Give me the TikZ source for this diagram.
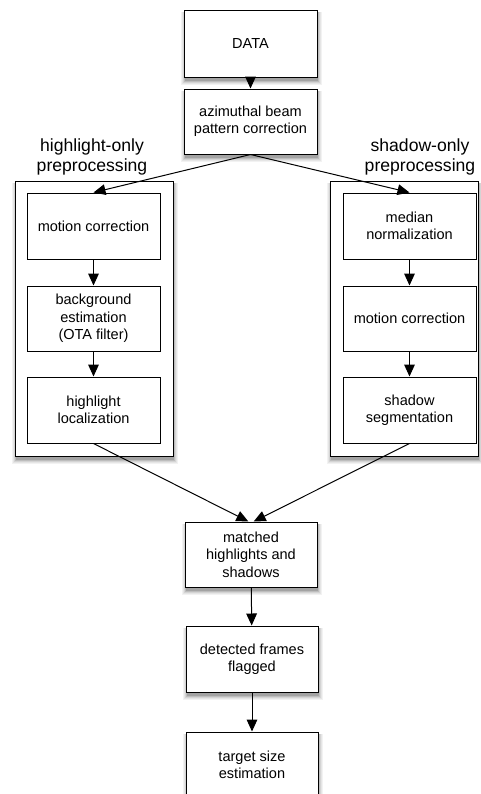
\documentclass[tikz,border=0pt]{standalone}
\usepackage{fontspec}
\setmainfont{Liberation Sans}
\usetikzlibrary{arrows.meta}
\newcommand{\shadowrect}[4]{%
  \fill[black!5]  (#1-3.5,#2+2) rectangle (#3+4.5,#4+8);
  \fill[black!10] (#1-2.5,#2+2) rectangle (#3+3.5,#4+7);
  \fill[black!17] (#1-1.5,#2+2) rectangle (#3+2.5,#4+6);
  \fill[black!26] (#1-0.5,#2+2) rectangle (#3+1.5,#4+5);
  \fill[black!36] (#1+0.5,#2+2) rectangle (#3+0.5,#4+4);}
\begin{document}
\begin{tikzpicture}[x=0.75pt,y=-0.75pt,
  box/.style={draw=black,line width=0.75pt,fill=white,align=center,inner sep=0pt,
    font=\fontsize{10.9}{13}\selectfont,
    minimum width=133*0.75pt,minimum height=66*0.75pt},
  outer/.style={draw=black,line width=0.75pt,fill=white,inner sep=0pt},
  grp/.style={align=center,font=\fontsize{13.2}{15}\selectfont,inner sep=0pt},
  arr/.style={-{Triangle[length=9pt,width=8pt]},line width=0.75pt}]
\useasboundingbox (0,0) rectangle (480,794);
% shadows
\shadowrect{15}{181}{173}{456}
\shadowrect{330}{181}{478}{456}
\shadowrect{184}{10}{317}{77}
\shadowrect{184}{89}{317}{154}
\shadowrect{185}{522}{317}{587}
\shadowrect{186}{626}{318}{692}
\shadowrect{186}{732}{318}{798}
% groups
\node[outer,minimum width=158*0.75pt,minimum height=275*0.75pt] (lo) at (94,318.5) {};
\node[outer,minimum width=148*0.75pt,minimum height=275*0.75pt] (ro) at (404,318.5) {};
\node[grp] (lt) at (92,157) {highlight-only\\preprocessing};
\node[grp] (rt) at (420,157) {shadow-only\\preprocessing};
% main column
\node[box,minimum height=67*0.75pt] (data) at (250.5,43.5) {DATA};
\node[box,minimum height=65*0.75pt] (azim) at (250.5,121.5) {azimuthal beam\\pattern correction};
% left column
\node[box] (lmc) at (93.5,226) {motion correction};
\node[box,minimum height=65*0.75pt] (lbg) at (93.5,318.5) {background\\estimation\\(OTA filter)};
\node[box] (lhl) at (93.5,410) {highlight\\localization};
% right column
\node[box] (rmed) at (409.5,226) {median\\normalization};
\node[box,minimum height=65*0.75pt] (rmc) at (409.5,318.5) {motion correction};
\node[box] (rss) at (409.5,410) {shadow\\segmentation};
% lower
\node[box,minimum width=132*0.75pt,minimum height=65*0.75pt] (match) at (251,554.5) {matched\\highlights and\\shadows};
\node[box,minimum width=132*0.75pt] (det) at (252,659) {detected frames\\flagged};
\node[box,minimum width=132*0.75pt] (tgt) at (252,765) {target size\\estimation};
% arrows
\draw[arr] (data) -- (azim);
\draw[arr] (azim.south) -- (lmc.north);
\draw[arr] (azim.south) -- (rmed.north);
\draw[arr] (lmc) -- (lbg);
\draw[arr] (lbg) -- (lhl);
\draw[arr] (rmed) -- (rmc);
\draw[arr] (rmc) -- (rss);
\draw[arr] (lhl.south) -- ([xshift=-2pt]match.north);
\draw[arr] (rss.south) -- ([xshift=2pt]match.north);
\draw[arr] (match) -- (det);
\draw[arr] (det) -- (tgt);
\end{tikzpicture}
\end{document}
